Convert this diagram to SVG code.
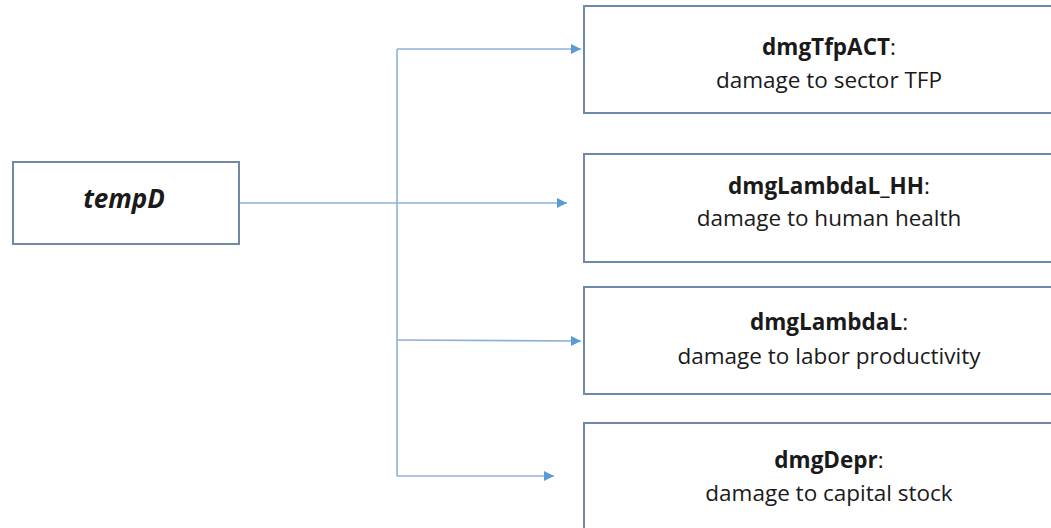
<svg xmlns="http://www.w3.org/2000/svg" width="1051" height="528" viewBox="0 0 1051 528">
<style>
.box{fill:#fff;stroke:#7189a8;stroke-width:2}
.t{font-family:"Open Sans","Liberation Sans",sans-serif;font-size:22.5px;fill:#1a1a1a;text-anchor:middle}
.b{font-weight:bold}
.c{fill:none;stroke:#8fb0d6;stroke-width:1.6}
</style>
<defs>
<marker id="ah" viewBox="0 0 10 10" refX="10" refY="5" markerWidth="10" markerHeight="10" markerUnits="userSpaceOnUse" orient="auto">
<path d="M0,0 L10,5 L0,10 Z" fill="#5b9bd5"/>
</marker>
</defs>
<g id="connectors">
<path class="c" d="M240,203 L567,203" marker-end="url(#ah)"/>
<path class="c" d="M397,49 L397,476"/>
<path class="c" d="M397,49 L581,49" marker-end="url(#ah)"/>
<path class="c" d="M397,340 L581,341" marker-end="url(#ah)"/>
<path class="c" d="M397,476 L554,476" marker-end="url(#ah)"/>
</g>
<g id="tempD">
<rect class="box" x="13" y="162" width="226" height="82"/>
<text class="t b" x="124" y="208" style="font-style:italic;font-size:26px">tempD</text>
</g>
<g id="dmgTfpACT">
<rect class="box" x="584" y="6" width="480" height="107"/>
<text class="t" x="829" y="55"><tspan class="b">dmgTfpACT</tspan>:</text>
<text class="t" x="829" y="88">damage to sector TFP</text>
</g>
<g id="dmgLambdaL_HH">
<rect class="box" x="584" y="154" width="480" height="108"/>
<text class="t" x="829" y="194"><tspan class="b">dmgLambdaL_HH</tspan>:</text>
<text class="t" x="829" y="226">damage to human health</text>
</g>
<g id="dmgLambdaL">
<rect class="box" x="584" y="287" width="480" height="107"/>
<text class="t" x="829" y="330"><tspan class="b">dmgLambdaL</tspan>:</text>
<text class="t" x="829" y="364">damage to labor productivity</text>
</g>
<g id="dmgDepr">
<rect class="box" x="584" y="423" width="480" height="120"/>
<text class="t" x="829" y="468"><tspan class="b">dmgDepr</tspan>:</text>
<text class="t" x="829" y="501">damage to capital stock</text>
</g>
</svg>
